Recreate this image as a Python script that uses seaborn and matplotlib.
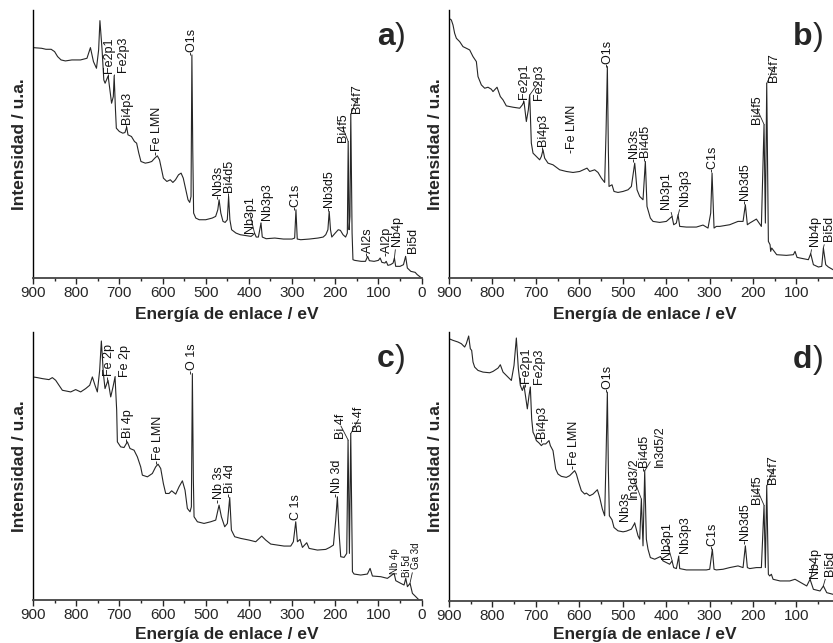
import matplotlib
matplotlib.use("Agg")
import matplotlib.pyplot as plt
from matplotlib.ticker import MultipleLocator
import seaborn as sns
import pandas as pd

# ---- panel a ----
a_energy = [900, 880, 870, 858, 850, 843, 835, 825, 810, 790, 775, 767, 760, 753, 748, 745, 740, 736, 733, 726,
            722, 718, 714, 712, 709, 707, 700, 692, 687, 683, 680, 672, 665, 660, 655, 650, 640, 632, 625, 618,
            612, 607, 603, 598, 590, 582, 576, 570, 563, 557, 552, 546, 541, 537, 534, 532, 530, 528, 523, 515,
            500, 485, 477, 472, 469, 465, 460, 455, 450, 447, 444, 440, 430, 420, 405, 395, 390, 387, 383, 378,
            372, 369, 360, 340, 320, 300, 294, 291, 288, 280, 260, 240, 228, 222, 217, 214, 211, 208, 200, 193,
            188, 182, 176, 172, 170, 168, 166, 164, 161, 159, 155, 140, 130, 125, 121, 110, 100, 96, 92, 85,
            82, 78, 72, 66, 63, 60, 50, 42, 37, 33, 25, 15, 10, 5, 0]
a_counts = [692, 690, 687, 687, 680, 665, 655, 652, 655, 655, 660, 692, 650, 630, 685, 773, 685, 595, 585, 607,
            565, 525, 545, 607, 505, 450, 440, 435, 437, 453, 430, 425, 410, 405, 375, 350, 345, 347, 350, 360,
            367, 355, 330, 300, 290, 295, 287, 295, 310, 315, 300, 265, 235, 227, 245, 670, 385, 195, 180, 175,
            175, 180, 185, 205, 235, 195, 170, 167, 175, 245, 175, 145, 135, 130, 127, 125, 130, 135, 123, 123,
            165, 123, 118, 120, 117, 117, 120, 205, 117, 115, 117, 120, 123, 130, 145, 200, 145, 123, 135, 145,
            143, 130, 123, 135, 410, 145, 185, 492, 135, 55, 53, 50, 50, 65, 52, 50, 53, 60, 47, 45,
            50, 38, 40, 45, 60, 35, 35, 40, 65, 30, 20, 17, 10, 5, 0]

# ---- panel b ----
b_energy = [900, 894.6, 890.8, 887, 883, 875.4, 867.8, 860, 852.4, 844.7, 837, 833.2, 825.5, 817.8, 810.2, 802.5,
            798.7, 789.4, 781.8, 775.6, 768, 752.6, 737.2, 731.1, 727.3, 721.9, 717.3, 714.2, 710.4, 706.5,
            698.8, 691.2, 687.3, 683.5, 679.7, 672, 660.5, 645.1, 629.8, 614.4, 599, 582.2, 576, 564.5, 556.8,
            549.1, 541.5, 538.4, 535.3, 533, 531.5, 524.6, 520, 510.8, 499.2, 487.7, 480, 472.3, 467, 460.8,
            453.2, 447.8, 444, 436.3, 430.2, 414.8, 399.4, 386.4, 382.5, 376.4, 372.5, 368.7, 353.4, 330.3,
            315, 303.5, 297.3, 294.2, 289.6, 284.3, 276.6, 253.6, 234.4, 222.8, 217.5, 212.9, 207.5, 192.1,
            180.6, 174.5, 171.4, 168.3, 164.5, 160.6, 159.2, 156.8, 145.3, 123, 106.9, 103.1, 98.5, 91.6, 72.4,
            67, 60.8, 49.3, 41.6, 37.8, 32.4, 26.3, 15.6, 8, 0]
b_counts = [780, 775, 760, 735, 720, 710, 695, 690, 685, 665, 650, 605, 580, 570, 573, 567,
            560, 573, 545, 535, 517, 513, 510, 520, 530, 470, 505, 550, 405, 375,
            365, 355, 365, 385, 360, 345, 340, 325, 320, 317, 320, 330, 320, 325, 317,
            300, 287, 435, 635, 385, 275, 280, 260, 257, 260, 265, 275, 345, 265, 245,
            235, 350, 215, 180, 170, 167, 170, 185, 160, 165, 190, 155, 153, 153,
            159, 150, 195, 315, 150, 155, 155, 160, 170, 170, 220, 160, 165, 177,
            155, 460, 165, 585, 110, 100, 80, 90, 70, 68, 70, 80, 62, 60, 55,
            73, 40, 33, 35, 90, 40, 33, 25, 22, 20]

# ---- panel c ----
c_energy = [900, 890, 878.4, 863, 855.2, 847.5, 839.8, 832, 812.7, 801.2, 789.6, 778, 768.7, 762.5, 756.4, 751,
            745.6, 741.7, 737, 733.2, 726.3, 720, 714.7, 710, 706.2, 704.6, 696.9, 689.2, 681.5, 675.3, 666,
            658.3, 650.6, 646.7, 635, 623.6, 615.8, 610.4, 604.2, 598.1, 592.7, 584.9, 578.8, 569.5, 561.8,
            554, 547.9, 542.5, 536.3, 533.2, 530.9, 528.6, 527, 519.3, 503.9, 488.4, 476.8, 469.1, 463.7, 456,
            449.8, 444.4, 440.5, 432.8, 418.9, 399.6, 384.2, 370.3, 361, 349.4, 334, 318.5, 303.1, 297, 291.5,
            287.6, 281.5, 276, 266, 260.6, 241.3, 222, 212.7, 204.2, 198.9, 195, 191.1, 187.3, 179.5, 173.4,
            170.3, 167.2, 164.1, 160.2, 156.4, 141, 125.5, 119.3, 113.9, 94.6, 79.2, 63.7, 59.8, 48.3, 40.6,
            36.7, 32.8, 26.7, 21.3, 13.5, 5.8, 0]
c_counts = [670, 668, 665, 662, 668, 660, 645, 630, 625, 632, 625, 635, 645, 670, 645, 625,
            690, 778, 680, 635, 660, 610, 640, 670, 570, 475, 460, 458, 475, 455, 450,
            430, 400, 375, 370, 380, 400, 408, 395, 350, 320, 320, 328, 318, 340,
            358, 330, 275, 265, 280, 680, 360, 250, 235, 230, 235, 240, 285, 250, 220,
            230, 308, 210, 190, 185, 180, 175, 192, 180, 168, 165, 162, 162, 175, 235,
            175, 182, 158, 172, 155, 150, 152, 158, 165, 240, 310, 200, 130, 128, 140,
            480, 140, 500, 85, 78, 75, 78, 95, 72, 70, 65, 80, 58, 50, 45,
            65, 40, 50, 20, 10, 0, 0]

# ---- panel d ----
d_energy = [900, 890.8, 879.3, 871.6, 863.9, 860.1, 854.7, 850.9, 847.8, 844.7, 840.9, 833.2, 821.7, 806.3, 798.7,
            787.1, 781.8, 775.6, 764.1, 756.4, 750.3, 744.9, 740.3, 735.7, 731.1, 727.3, 723.4, 719.6, 715.7,
            712.7, 709.6, 706.5, 702.7, 698.8, 692.7, 687.3, 683.5, 677.3, 669.7, 666.6, 660.5, 654.3, 649,
            641.3, 629.8, 622.1, 610.6, 606.7, 601.3, 595.2, 587.5, 583.7, 576, 568.3, 558.3, 553, 546.8,
            541.5, 538.4, 535.3, 533, 530.7, 524.6, 520, 510.8, 499.2, 491.6, 480, 472.3, 464.7, 460.8, 457,
            453.2, 449.3, 445.5, 441.7, 436.3, 426.3, 413.2, 407.1, 391.8, 386.4, 382.5, 376.4, 371, 368.7,
            353.4, 330.3, 307.3, 299.6, 293.5, 289.6, 284.3, 268.9, 253.6, 234.4, 222.8, 217.5, 212.9, 207.5,
            192.1, 180.6, 174.5, 171.4, 168.3, 164.5, 161.4, 157.6, 153.7, 137.6, 115.3, 103.1, 92.3, 76.2,
            68.5, 60.8, 45.5, 37.8, 30.1, 15.6, 5, 0]
d_counts = [785, 780, 775, 770, 760, 770, 793, 755, 750, 715, 700, 690, 685, 683, 687,
            697, 707, 685, 670, 660, 705, 787, 695, 645, 630, 645, 610, 575, 615,
            640, 545, 505, 495, 480, 473, 465, 470, 470, 480, 465, 450, 395, 380,
            373, 370, 375, 390, 380, 355, 330, 320, 323, 315, 320, 333, 310, 275,
            255, 425, 625, 395, 255, 243, 220, 210, 207, 209, 215, 233, 195, 185, 305,
            165, 390, 185, 155, 130, 125, 133, 120, 110, 120, 100, 97, 133, 97,
            93, 93, 93, 95, 155, 95, 93, 95, 100, 105, 100, 165, 100, 97,
            100, 100, 285, 100, 345, 80, 75, 80, 65, 60, 60, 65, 57, 45,
            65, 35, 30, 45, 25, 20, 15, 12]

# ---- peak labels: text, energy, intensity, leader target energy, leader target intensity ----
a_labels = [("-Fe2p1", 723, 605, None, None), ("Fe2p3", 691, 620, 712, 607), ("-Bi4p3", 681, 450, None, None),
            ("-Fe LMN", 612, 368, None, None), ("-O1s", 532, 670, None, None), ("-Nb3s", 470, 237, None, None),
            ("-Bi4d5", 446, 245, None, None), ("Nb3p1", 397, 135, 387, 135), ("Nb3p3", 357, 175, 372, 165),
            ("-C1s", 291, 205, None, None), ("-Nb3d5", 214, 202, None, None), ("Bi4f5", 183, 410, 170, 410),
            ("Bi4f7", 150, 495, 164, 492), ("-Al2s", 125, 65, None, None), ("-Al2p", 81, 65, None, None),
            ("Nb4p", 56, 95, 63, 60), ("Bi5d", 19, 75, 37, 65)]
b_labels = [("-Fe2p1", 726, 525, None, None), ("Fe2p3", 693, 535, 714, 550), ("-Bi4p3", 683, 385, None, None),
            ("-Fe LMN", 616, 375, None, None), ("-O1s", 535, 635, None, None), ("-Nb3s", 473, 347, None, None),
            ("-Bi4d5", 448, 352, None, None), ("Nb3p1", 401, 207, 386, 185), ("Nb3p3", 357, 215, 372, 190),
            ("-C1s", 294, 317, None, None), ("-Nb3d5", 218, 222, None, None), ("Bi4f5", 190, 463, 174, 460),
            ("Bi4f7", 152, 590, 168, 585), ("Nb4p", 57, 95, 67, 73), ("Bi5d", 26, 110, 38, 90)]
c_labels = [("-Fe 2p", 724, 660, None, None), ("Fe 2p", 688, 670, 710, 670), ("-Bi 4p", 681, 475, None, None),
            ("-Fe LMN", 610, 408, None, None), ("-O 1s", 531, 680, None, None), ("-Nb 3s", 470, 290, None, None),
            ("-Bi 4d", 444, 308, None, None), ("C 1s", 291, 240, None, None), ("-Nb 3d", 196, 310, None, None),
            ("Bi 4f", 187, 485, 170, 480), ("Bi 4f", 146, 505, 164, 500)]
c_small_labels = [("Nb 4p", 61, 78, None, None), ("Bi 5d", 34, 68, None, None), ("Ga 3d", 13, 92, 27, 50)]
d_labels = [("-Fe2p1", 722, 640, None, None), ("Fe2p3", 693, 650, 713, 640), ("-Bi4p3", 684, 475, None, None),
            ("-Fe LMN", 612, 395, None, None), ("-O1s", 535, 625, None, None), ("Nb3s", 494, 240, 472, 233),
            ("In3d3/2", 475, 305, 457, 305), ("-Bi4d5", 449, 390, None, None), ("In3d5/2", 415, 400, 449, 390),
            ("Nb3p1", 399, 125, 386, 120), ("Nb3p3", 357, 145, 371, 133), ("-C1s", 293, 155, None, None),
            ("-Nb3d5", 217, 170, None, None), ("Bi4f5", 190, 290, 174, 285), ("Bi4f7", 154, 350, 168, 345),
            ("Nb4p", 58, 70, 68, 65), ("Bi5d", 23, 75, 38, 45)]

panels = [
    ("a", a_energy, a_counts, a_labels, [], [33 / 833, 1 - 278 / 643, 388.6 / 833, 268 / 643], 5),
    ("b", b_energy, b_counts, b_labels, [], [449 / 833, 1 - 278 / 643, 390.8 / 833, 268 / 643], 5),
    ("c", c_energy, c_counts, c_labels, c_small_labels, [33 / 833, 1 - 600 / 643, 388.6 / 833, 268 / 643], 3),
    ("d", d_energy, d_counts, d_labels, [], [449 / 833, 1 - 601 / 643, 390.8 / 833, 269 / 643], 3),
]

sns.set_style("ticks")
plt.rcParams["font.family"] = ["Liberation Sans", "DejaVu Sans"]

fig = plt.figure(figsize=(8.33, 6.43), dpi=100)


def put_label(ax, txt, x, y, lx, ly, size):
    if lx is None:
        ax.text(x, y, txt, rotation=90, ha="center", va="bottom", fontsize=size, color="#111111")
    else:
        ax.annotate(txt, xy=(lx, ly), xytext=(x, y), rotation=90, ha="center", va="bottom",
                    fontsize=size, color="#111111",
                    arrowprops=dict(arrowstyle="-", lw=0.6, color="#222222", shrinkA=0, shrinkB=0))


for letter, energy, counts, labels, small, pos, xpad in panels:
    ax = fig.add_axes(pos)
    df = pd.DataFrame({"energy": energy, "counts": counts})
    sns.lineplot(data=df, x="energy", y="counts", ax=ax, color="#262626", lw=0.8, estimator=None)
    ax.set_xlim(900, 0)
    ax.set_ylim(0, 805)
    ax.xaxis.set_major_locator(MultipleLocator(100))
    ax.xaxis.set_minor_locator(MultipleLocator(50))
    ax.tick_params(axis="x", which="major", direction="out", length=4, width=1, labelsize=11, pad=2)
    ax.tick_params(axis="x", which="minor", direction="out", length=2, width=1)
    ax.set_yticks([])
    sns.despine(ax=ax)
    ax.spines["left"].set_linewidth(1.0)
    ax.spines["left"].set_color("black")
    ax.spines["bottom"].set_linewidth(1.3)
    ax.spines["bottom"].set_color("#444444")
    ax.set_xlabel("Energía de enlace / eV", fontsize=12.5, fontweight="bold", labelpad=xpad)
    ax.set_ylabel("Intensidad / u.a.", fontsize=12.5, fontweight="bold", labelpad=4)
    ax.text(0.93, 0.868, letter, transform=ax.transAxes, ha="right", va="baseline",
            fontsize=23, fontweight="bold")
    ax.text(0.93, 0.868, ")", transform=ax.transAxes, ha="left", va="baseline", fontsize=23)
    for txt, x, y, lx, ly in labels:
        put_label(ax, txt, x, y, lx, ly, 9)
    for txt, x, y, lx, ly in small:
        put_label(ax, txt, x, y, lx, ly, 7)

fig.savefig("out.png", dpi=100)
